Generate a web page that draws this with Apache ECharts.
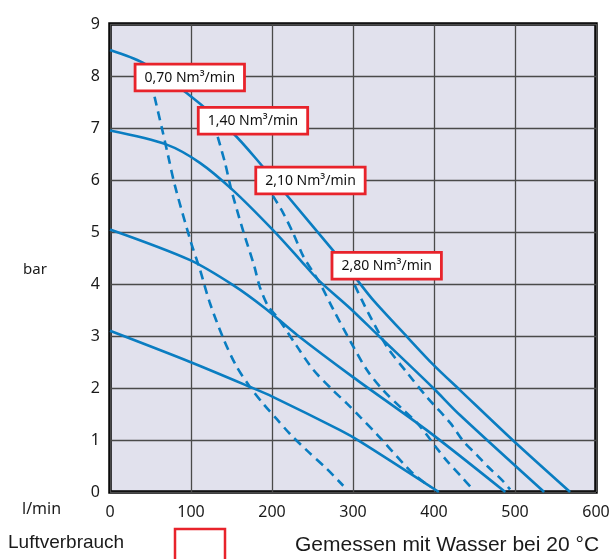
<!DOCTYPE html>
<html>
<head>
<meta charset="utf-8">
<script src="https://cdn.jsdelivr.net/npm/echarts@6/dist/echarts.min.js"></script>
<style>
html,body{margin:0;padding:0;background:#fff;}
#c{width:615px;height:559px;}
</style>
</head>
<body>
<div id="c"></div>
<script>
// X tick values (l/min) and Y tick values (bar)
const xTicks = [0, 100, 200, 300, 400, 500, 600];
const yTicks = [0, 1, 2, 3, 4, 5, 6, 7, 8, 9];

// Pump curves (solid) [l/min, bar]
const curve85 = [[0,8.5],[41,8.25],[95,7.67],[152,6.9],[189,6.25],[216,5.75],[275,4.65],[305,4.08],[325,3.69],[367,2.98],[399,2.45],[432,1.96],[497,1.0],[568,0]];
const curve7  = [[0,6.95],[70,6.68],[111,6.33],[152,5.8],[201,5.04],[235,4.46],[257,4.08],[296,3.54],[330,3.03],[399,2.0],[432,1.48],[536,0]];
const curve5  = [[0,5.05],[99,4.46],[152,3.98],[191,3.54],[231,3.02],[300,2.21],[391,1.19],[488,0]];
const curve3  = [[0,3.1],[99,2.5],[173,2.02],[201,1.83],[284,1.19],[309,0.97],[406,0]];

// Air consumption lines (dashed) [l/min, bar]
const air070 = [[55,7.6],[64,7.0],[72,6.45],[80,5.9],[99,4.85],[111,4.28],[123,3.65],[140,2.95],[156,2.42],[172,2.04],[190,1.68],[206,1.4],[222,1.12],[243,0.8],[268,0.44],[288,0.12]];
const air140 = [[133,6.83],[142,6.33],[150,5.8],[164,5.04],[178,4.35],[185,3.94],[195,3.58],[208,3.33],[230,2.82],[251,2.35],[275,1.96],[292,1.71],[309,1.44],[330,1.1],[362,0.55],[376,0.33],[395,0.1]];
const air210 = [[201,5.7],[214,5.36],[226,4.98],[239,4.52],[249,4.27],[259,4.02],[276,3.5],[296,2.92],[317,2.35],[337,1.96],[362,1.58],[379,1.33],[391,1.1],[403,0.85],[417,0.58],[434,0.29],[448,0.05]];
const air280 = [[302,3.98],[311,3.69],[319,3.44],[342,2.79],[367,2.29],[391,1.83],[420,1.33],[436,0.98],[453,0.71],[467,0.48],[484,0.23],[494,0.05]];

// Label texts and their anchors (data units)
const airLabels = ['0,70 Nm³/min', '1,40 Nm³/min', '2,10 Nm³/min', '2,80 Nm³/min'];
const airLabelAnchors = [[98.5,7.97],[176.5,7.14],[247.5,5.99],[341.6,4.35]];

const BLUE = '#0a7dc1';
const RED = '#e8232b';

function solid(d){
  return {type:'line', data:d, smooth:0.3, showSymbol:false, silent:true,
    lineStyle:{color:BLUE, width:2.6}, z:3};
}
function dashed(d){
  return {type:'line', data:d, smooth:0.3, showSymbol:false, silent:true,
    lineStyle:{color:BLUE, width:2.6, type:[9,6]}, z:3};
}

const chart = echarts.init(document.getElementById('c'), null, {renderer:'canvas'});
chart.setOption({
  animation:false,
  backgroundColor:'#ffffff',
  grid:{left:110, right:19, top:24, bottom:67, show:true, backgroundColor:'#e1e1ed', borderColor:'#000', borderWidth:3.5},
  xAxis:{type:'value', min:xTicks[0], max:xTicks[xTicks.length-1], interval:100,
    axisLine:{show:false}, axisTick:{show:false},
    splitLine:{show:true, lineStyle:{color:'#4a4a4a', width:1.3}},
    axisLabel:{fontSize:16, color:'#1a1a1a', margin:12, fontFamily:'Noto Sans'}},
  yAxis:{type:'value', min:yTicks[0], max:yTicks[yTicks.length-1], interval:1,
    axisLine:{show:false}, axisTick:{show:false},
    splitLine:{show:true, lineStyle:{color:'#4a4a4a', width:1.3}},
    axisLabel:{fontSize:16, color:'#1a1a1a', margin:10, fontFamily:'Noto Sans'}},
  series:[
    solid(curve85), solid(curve7), solid(curve5), solid(curve3),
    dashed(air070), dashed(air140), dashed(air210), dashed(air280),
    {type:'scatter', z:10, silent:true,
      data: airLabels.map((t,i)=>({name:t, value:airLabelAnchors[i]})),
      symbol:'circle', symbolSize:1, itemStyle:{color:'rgba(0,0,0,0)', opacity:1},
      label:{show:true, position:'inside', formatter:'{b}', color:'#111', fontSize:14, fontFamily:'Noto Sans',
        lineHeight:17, padding:[4,8,3,8], backgroundColor:'#ffffff', borderColor:RED, borderWidth:2.8, opacity:1}}
  ],
  graphic:[
    {type:'text', left:23, top:262, style:{text:'bar', fontSize:15, fill:'#1a1a1a', fontFamily:'Noto Sans'}},
    {type:'text', left:22, top:501, style:{text:'l/min', fontSize:16, fill:'#1a1a1a', fontFamily:'Noto Sans'}},
    {type:'text', left:8, top:533, style:{text:'Luftverbrauch', fontSize:19, fill:'#1a1a1a', fontFamily:'Liberation Sans'}},
    {type:'rect', shape:{x:175, y:529, width:50, height:40}, style:{fill:'#fff', stroke:RED, lineWidth:2.5}},
    {type:'text', left:295, top:535, style:{text:'Gemessen mit Wasser bei 20 °C', fontSize:21, fill:'#1a1a1a', fontFamily:'Liberation Sans'}}
  ]
});
</script>
</body>
</html>
